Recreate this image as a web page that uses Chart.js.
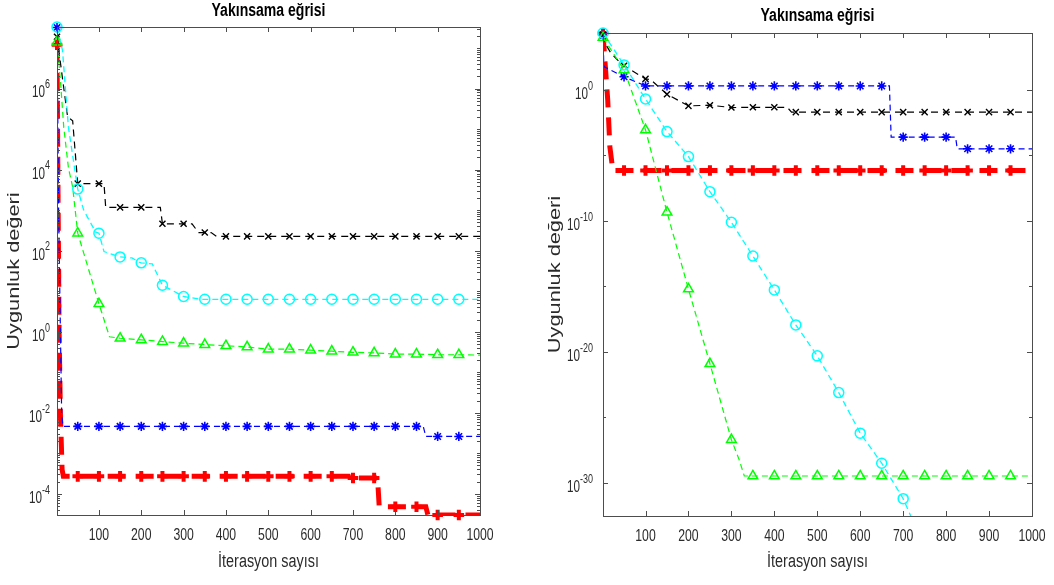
<!DOCTYPE html>
<html>
<head>
<meta charset="utf-8">
<script src="https://cdn.jsdelivr.net/npm/chart.js@4.4.1/dist/chart.umd.min.js"></script>
<style>
  html, body { margin: 0; background: #fff; }
  .panel { position: absolute; top: 0; height: 585px; }
  #left { left: 0; width: 500px; }
  #right { left: 530px; width: 524px; }
</style>
</head>
<body>
<div class="panel" id="left"><canvas id="leftChart"></canvas></div>
<div class="panel" id="right"><canvas id="rightChart"></canvas></div>
<script>
'use strict';

// Shared axis data
var markerIters = [1, 50, 100, 150, 200, 250, 300, 350, 400, 450, 500, 550, 600, 650, 700, 750, 800, 850, 900, 950];
var xTickValues = [100, 200, 300, 400, 500, 600, 700, 800, 900, 1000];
var leftYTicks = [1e-4, 1e-2, 1, 1e2, 1e4, 1e6];
var rightYTicks = [1e-30, 1e-20, 1e-10, 1];

// Left panel: curve breakpoints [iteration, value] and values at the markers
var leftBlackCurve = [[1, 1.9e7], [26, 2e5], [38, 1.6e5], [50, 4.5e3], [112, 4.5e3], [116, 1.17e3], [245, 1.17e3], [250, 460], [320, 460], [335, 280], [365, 280], [378, 225], [1000, 225]];
var leftBlackMarks = [1.9e7, 4.5e3, 4.5e3, 1.17e3, 1.17e3, 460, 460, 280, 225, 225, 225, 225, 225, 225, 225, 225, 225, 225, 225, 225];

var leftCyanCurve = [[1, 3.3e7], [14, 8.7e6], [28, 1.1e5], [50, 3.3e3], [64, 1e3], [92, 290], [100, 270], [112, 95], [150, 70], [178, 66], [195, 52], [200, 50], [226, 47], [250, 14], [300, 7.4], [340, 6.3], [1000, 6.3]];
var leftCyanMarks = [3.3e7, 3.3e3, 270, 70, 50, 14, 7.4, 6.3, 6.3, 6.3, 6.3, 6.3, 6.3, 6.3, 6.3, 6.3, 6.3, 6.3, 6.3, 6.3];

var leftGreenCurve = [[1, 1.4e7], [9, 1.6e6], [17, 1.1e5], [28, 1.1e4], [38, 3.7e3], [50, 270], [100, 4.9], [125, 0.75], [150, 0.69], [200, 0.63], [250, 0.57], [300, 0.52], [350, 0.48], [400, 0.45], [450, 0.42], [500, 0.37], [550, 0.37], [600, 0.35], [650, 0.33], [700, 0.31], [750, 0.3], [800, 0.28], [850, 0.28], [900, 0.27], [950, 0.27], [1000, 0.265]];
var leftGreenMarks = [1.4e7, 270, 4.9, 0.69, 0.63, 0.57, 0.52, 0.48, 0.45, 0.42, 0.37, 0.37, 0.35, 0.33, 0.31, 0.3, 0.28, 0.28, 0.27, 0.27];

var leftBlueCurve = [[1, 3.2e7], [5, 6e2], [12, 1e-2], [15, 4.6e-3], [866, 4.6e-3], [872, 2.6e-3], [1000, 2.6e-3]];
var leftBlueMarks = [3.2e7, 4.6e-3, 4.6e-3, 4.6e-3, 4.6e-3, 4.6e-3, 4.6e-3, 4.6e-3, 4.6e-3, 4.6e-3, 4.6e-3, 4.6e-3, 4.6e-3, 4.6e-3, 4.6e-3, 4.6e-3, 4.6e-3, 4.6e-3, 2.6e-3, 2.6e-3];

var leftRedCurve = [[1, 1.2e7], [3, 1e4], [6, 1], [9, 1e-2], [13, 4e-4], [16, 2.7e-4], [690, 2.7e-4], [694, 2.45e-4], [758, 2.45e-4], [762, 4.8e-5], [872, 4.8e-5], [877, 3e-5], [1000, 3e-5]];
var leftRedMarks = [1.2e7, 2.7e-4, 2.7e-4, 2.7e-4, 2.7e-4, 2.7e-4, 2.7e-4, 2.7e-4, 2.7e-4, 2.7e-4, 2.7e-4, 2.7e-4, 2.7e-4, 2.7e-4, 2.45e-4, 2.45e-4, 4.8e-5, 4.8e-5, 3e-5, 3e-5];

// Right panel
var rightBlackCurve = [[1, 1.6e4], [5, 4e3], [20, 6e2], [40, 1.3e2], [50, 70], [100, 6.9], [112, 6], [150, 0.47], [200, 0.06], [250, 0.068], [300, 0.045], [350, 0.047], [430, 0.047], [440, 0.02], [1000, 0.02]];
var rightBlackMarks = [1.6e4, 70, 6.9, 0.47, 0.06, 0.068, 0.045, 0.047, 0.047, 0.02, 0.02, 0.02, 0.02, 0.02, 0.02, 0.02, 0.02, 0.02, 0.02, 0.02];

var rightCyanCurve = [[1, 2.2e4], [50, 81], [100, 0.2], [150, 6.6e-4], [200, 8.1e-6], [250, 1.7e-8], [300, 7.9e-11], [350, 2.1e-13], [400, 5.4e-16], [450, 1.15e-18], [500, 5e-21], [550, 7.9e-24], [600, 6.3e-27], [650, 3.2e-29], [700, 6.3e-32], [720, 2e-33]];
var rightCyanMarks = [2.2e4, 81, 0.2, 6.6e-4, 8.1e-6, 1.7e-8, 7.9e-11, 2.1e-13, 5.4e-16, 1.15e-18, 5e-21, 7.9e-24, 6.3e-27, 3.2e-29, 6.3e-32, null, null, null, null, null];

var rightGreenCurve = [[1, 1e4], [50, 34], [100, 8.9e-4], [150, 4.6e-10], [200, 6.3e-16], [250, 1.26e-21], [300, 2e-27], [318, 6e-29], [330, 3.4e-30], [1000, 3.4e-30]];
var rightGreenMarks = [1e4, 34, 8.9e-4, 4.6e-10, 6.3e-16, 1.26e-21, 2e-27, 3.4e-30, 3.4e-30, 3.4e-30, 3.4e-30, 3.4e-30, 3.4e-30, 3.4e-30, 3.4e-30, 3.4e-30, 3.4e-30, 3.4e-30, 3.4e-30, 3.4e-30];

var rightBlueCurve = [[1, 1.5e4], [3, 60], [50, 10], [100, 2], [668, 2], [672, 2.5e-4], [822, 2.5e-4], [826, 3.2e-5], [1000, 3.2e-5]];
var rightBlueMarks = [1.5e4, 10, 2, 2, 2, 2, 2, 2, 2, 2, 2, 2, 2, 2, 2.5e-4, 2.5e-4, 2.5e-4, 3.2e-5, 3.2e-5, 3.2e-5];

var rightRedCurve = [[1, 2e4], [12, 0.17], [17, 4.5e-5], [24, 7e-7], [1000, 7e-7]];
var rightRedMarks = [2e4, 7e-7, 7e-7, 7e-7, 7e-7, 7e-7, 7e-7, 7e-7, 7e-7, 7e-7, 7e-7, 7e-7, 7e-7, 7e-7, 7e-7, 7e-7, 7e-7, 7e-7, 7e-7, 7e-7];

var FONT = '"Liberation Sans", Arial, sans-serif';
var TEXT = '#2b2b2b';

var styles = {
	black: { color: '#000000', marker: 'crossRot', radius: 4.3, mw: 1.4, lw: 1.2, dash: [7, 5] },
	cyan: { color: '#00ffff', marker: 'circle', radius: 5, mw: 1.5, lw: 1.3, dash: [6, 4] },
	green: { color: '#00ff00', marker: 'triangle', radius: 5.6, mw: 1.5, lw: 1.2, dash: [6, 4] },
	blue: { color: '#0000ff', marker: 'star', radius: 4.6, mw: 1.6, lw: 1.2, dash: [6, 4] },
	red: { color: '#ff0000', marker: 'cross', radius: 5.3, mw: 4, lw: 5, dash: [18, 10] }
};

// markers and line of one series; first dataset is painted on top
function seriesDatasets(style, curve, marks) {
	return [{
		data: markerIters.map(function (it, i) { return { x: it, y: marks[i] }; }),
		showLine: false,
		pointStyle: style.marker,
		pointRadius: style.radius,
		pointBorderColor: style.color,
		pointBackgroundColor: 'rgba(0,0,0,0)',
		pointBorderWidth: style.mw,
		clip: 8
	}, {
		data: curve.map(function (p) { return { x: p[0], y: p[1] }; }),
		borderColor: style.color,
		borderWidth: style.lw,
		borderDash: style.dash,
		pointRadius: 0,
		fill: false,
		tension: 0
	}];
}

// text squeezed horizontally (sx) or stretched along a rotated line
function drawText(ctx, text, x, y, font, sx, align, rotate) {
	ctx.save();
	ctx.translate(x, y);
	if (rotate) {
		ctx.rotate(-Math.PI / 2);
	}
	ctx.scale(sx, 1);
	ctx.font = font;
	ctx.textAlign = align;
	ctx.textBaseline = 'middle';
	ctx.fillText(text, 0, 0);
	ctx.restore();
}

function textWidth(ctx, text, font, sx) {
	ctx.font = font;
	return ctx.measureText(text).width * sx;
}

// box, inward ticks, titles and 10^n labels (MATLAB look)
var matlabAxes = {
	id: 'matlabAxes',
	afterDraw: function (chart, args, opts) {
		var ctx = chart.ctx,
			a = chart.chartArea,
			x = chart.scales.x,
			y = chart.scales.y,
			cx = (a.left + a.right) / 2;

		ctx.save();
		ctx.strokeStyle = '#4d4d4d';
		ctx.lineWidth = 1;
		ctx.beginPath();
		x.ticks.forEach(function (t) {
			var px = Math.round(x.getPixelForValue(t.value)) + 0.5;
			ctx.moveTo(px, a.bottom); ctx.lineTo(px, a.bottom - 5);
			ctx.moveTo(px, a.top); ctx.lineTo(px, a.top + 5);
		});
		y.ticks.forEach(function (t) {
			var py = Math.round(y.getPixelForValue(t.value)) + 0.5;
			ctx.moveTo(a.left, py); ctx.lineTo(a.left + 5, py);
			ctx.moveTo(a.right, py); ctx.lineTo(a.right - 5, py);
		});
		opts.minor.forEach(function (v) {
			if (v <= y.min || v >= y.max) {
				return;
			}
			var py = Math.round(y.getPixelForValue(v)) + 0.5;
			ctx.moveTo(a.left, py); ctx.lineTo(a.left + 3, py);
			ctx.moveTo(a.right, py); ctx.lineTo(a.right - 3, py);
		});
		ctx.stroke();
		ctx.strokeRect(Math.round(a.left) + 0.5, Math.round(a.top) + 0.5, Math.round(a.width), Math.round(a.height));

		// title
		ctx.fillStyle = '#000';
		drawText(ctx, 'Yakınsama eğrisi', cx, opts.titleY, 'bold 18px ' + FONT, 0.78, 'center');

		ctx.fillStyle = TEXT;
		// x tick labels and title
		x.ticks.forEach(function (t) {
			drawText(ctx, String(t.value), x.getPixelForValue(t.value), a.bottom + 20.5, '17px ' + FONT, 0.72, 'center');
		});
		drawText(ctx, 'İterasyon sayısı', cx, 562.5, '18px ' + FONT, 0.8, 'center');

		// y tick labels with superscript exponent
		y.ticks.forEach(function (t) {
			var py = y.getPixelForValue(t.value),
				exp = String(Math.round(Math.log10(t.value))),
				we = textWidth(ctx, exp, '12px ' + FONT, 0.75),
				wb = textWidth(ctx, '10', '16px ' + FONT, 0.73),
				right = a.left - opts.pad;
			drawText(ctx, '10', right - we - wb, py + 4.5, '16px ' + FONT, 0.73, 'left');
			drawText(ctx, exp, right - we, py - 3.5, '12px ' + FONT, 0.75, 'left');
		});

		// y title, stretched along the text
		drawText(ctx, 'Uygunluk değeri', opts.yTitleX, (a.top + a.bottom) / 2, '16px ' + FONT, 1.36, 'center', true);
		ctx.restore();
	}
};

function decadeMinors(lo, hi) {
	var out = [], k, d;
	for (k = lo; k <= hi; k++) {
		for (d = 1; d < 10; d++) {
			if (!(d === 1 && k % 2 === 0)) {
				out.push(d * Math.pow(10, k));
			}
		}
	}
	return out;
}

function makeChart(id, panel) {
	return new Chart(document.getElementById(id), {
		type: 'line',
		data: { datasets: panel.datasets },
		plugins: [matlabAxes],
		options: {
			responsive: true,
			maintainAspectRatio: false,
			animation: false,
			events: [],
			layout: { padding: { left: 0, right: panel.padRight, top: panel.padTop, bottom: 0 } },
			plugins: {
				legend: { display: false },
				tooltip: { enabled: false },
				title: { display: false },
				matlabAxes: { minor: panel.minor, pad: panel.labelPad, yTitleX: panel.yTitleX, titleY: panel.titleY }
			},
			scales: {
				x: {
					type: 'linear',
					min: 1,
					max: 1000,
					afterBuildTicks: function (scale) {
						scale.ticks = xTickValues.map(function (v) { return { value: v }; });
					},
					afterFit: function (scale) { scale.height = panel.xAxisHeight; },
					grid: { display: false, drawTicks: false },
					border: { display: false },
					ticks: { display: false }
				},
				y: {
					type: 'logarithmic',
					min: panel.yMin,
					max: panel.yMax,
					afterBuildTicks: function (scale) {
						scale.ticks = panel.yTicks.map(function (v) { return { value: v }; });
					},
					afterFit: function (scale) { scale.width = panel.yAxisWidth; },
					grid: { display: false, drawTicks: false },
					border: { display: false },
					ticks: { display: false }
				}
			}
		}
	});
}

makeChart('leftChart', {
	datasets: [].concat(
		seriesDatasets(styles.cyan, leftCyanCurve, leftCyanMarks),
		seriesDatasets(styles.green, leftGreenCurve, leftGreenMarks),
		seriesDatasets(styles.black, leftBlackCurve, leftBlackMarks),
		seriesDatasets(styles.blue, leftBlueCurve, leftBlueMarks),
		seriesDatasets(styles.red, leftRedCurve, leftRedMarks)
	),
	yMin: 3e-5,
	yMax: 3.3e7,
	yTicks: leftYTicks,
	minor: decadeMinors(-5, 7),
	padTop: 27,
	padRight: 20,
	xAxisHeight: 70,
	yAxisWidth: 57,
	labelPad: 7,
	yTitleX: 15,
	titleY: 11
});

makeChart('rightChart', {
	datasets: [].concat(
		seriesDatasets(styles.cyan, rightCyanCurve, rightCyanMarks),
		seriesDatasets(styles.green, rightGreenCurve, rightGreenMarks),
		seriesDatasets(styles.black, rightBlackCurve, rightBlackMarks),
		seriesDatasets(styles.blue, rightBlueCurve, rightBlueMarks),
		seriesDatasets(styles.red, rightRedCurve, rightRedMarks)
	),
	yMin: 3e-33,
	yMax: 2.2e4,
	yTicks: rightYTicks,
	minor: [1e-25, 1e-15, 1e-5],
	padTop: 33,
	padRight: 22,
	xAxisHeight: 69,
	yAxisWidth: 73,
	labelPad: 10,
	yTitleX: 26,
	titleY: 16.5
});
</script>
</body>
</html>
